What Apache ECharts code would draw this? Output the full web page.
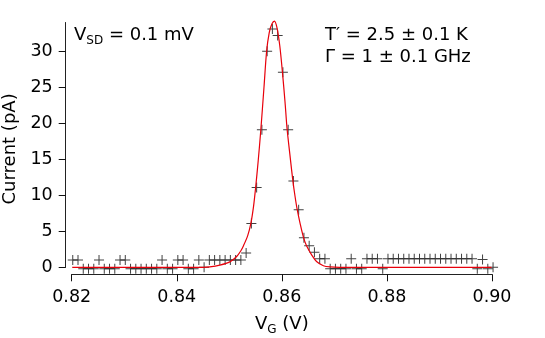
<!DOCTYPE html>
<html>
<head>
<meta charset="utf-8">
<script src="https://cdn.jsdelivr.net/npm/echarts@6/dist/echarts.min.js"></script>
<style>
  html, body { margin: 0; padding: 0; background: #fff; }
  #chart { width: 545px; height: 338px; }
</style>
</head>
<body>
<div id="chart"></div>
<script>
// gate voltage sweep (V) and measured current (pA)
var gateV = [
  0.8202, 0.8212, 0.8222, 0.8232, 0.8242, 0.8252, 0.8262, 0.8272, 0.8282, 0.8292,
  0.8302, 0.8312, 0.8322, 0.8332, 0.8342, 0.8352, 0.8362, 0.8372, 0.8382, 0.8392,
  0.8402, 0.8412, 0.8422, 0.8432, 0.8442, 0.8452, 0.8462, 0.8472, 0.8482, 0.8492,
  0.8502, 0.8512, 0.8522, 0.8532, 0.8542, 0.8552, 0.8562, 0.8572, 0.8582, 0.8592,
  0.8602, 0.8612, 0.8622, 0.8632, 0.8642, 0.8652, 0.8662, 0.8672, 0.8682, 0.8692,
  0.8702, 0.8712, 0.8722, 0.8732, 0.8742, 0.8752, 0.8762, 0.8772, 0.8782, 0.8792,
  0.8802, 0.8812, 0.8822, 0.8832, 0.8842, 0.8852, 0.8862, 0.8872, 0.8882, 0.8892,
  0.8902, 0.8912, 0.8922, 0.8932, 0.8942, 0.8952, 0.8962, 0.8972, 0.8982, 0.8992,
  0.9002
];
var current = [
  1.0, 1.0, -0.2, -0.2, -0.2, 1.0, -0.2, -0.2, -0.2, 1.0,
  1.0, -0.2, -0.2, -0.2, -0.2, -0.2, -0.2, 1.0, -0.2, -0.2,
  1.0, 1.0, -0.2, -0.2, 1.0, 0.0, 1.0, 1.0, 1.0, 1.0,
  1.0, 1.0, 1.0, 2.0, 6.1, 11.1, 19.1, 30.0, 33.1, 32.2,
  27.1, 19.1, 12.0, 8.0, 4.1, 3.0, 2.1, 1.2, 1.2, -0.2,
  -0.2, -0.2, -0.2, 1.2, -0.2, -0.2, 1.2, 1.2, 1.2, -0.2,
  1.2, 1.2, 1.2, 1.2, 1.2, 1.2, 1.2, 1.2, 1.2, 1.2,
  1.2, 1.2, 1.2, 1.2, 1.2, 1.2, 1.2, -0.2, 1.1, -0.2,
  0.0
];

// fitted curve
var fitV = [0.8201, 0.8400, 0.8450, 0.8463, 0.8482, 0.8501, 0.8514, 0.8522, 0.8527, 0.8535,
  0.8541, 0.8546, 0.8550, 0.8555, 0.8560, 0.8566, 0.8571, 0.8576, 0.8581, 0.8586,
  0.8591, 0.8596, 0.8601, 0.8606, 0.8610, 0.8616, 0.8621, 0.8625, 0.8629, 0.8635,
  0.8641, 0.8647, 0.8657, 0.8666, 0.8679, 0.8692, 0.8710, 0.8999];
var fitI = [0, 0, 0, 0.05, 0.3, 0.75, 1.5, 2.3, 3.0, 4.4,
  6.1, 8.4, 11.0, 14.8, 19.1, 25.0, 30.0, 32.6, 33.8, 34.2,
  33.2, 30.8, 27.2, 23.0, 19.2, 15.2, 12.0, 9.9, 8.1, 6.0,
  4.2, 3.0, 1.7, 0.8, 0.22, 0.05, 0, 0];

var font = 'DejaVu Sans';
var plus = 'path://M0,4.5h10v1h-10z M4.5,0h1v10h-1z';

var myChart = echarts.init(document.getElementById('chart'));

var points = gateV.map(function (v, i) { return [v, current[i]]; });
var fit = fitV.map(function (v, i) { return [v, fitI[i]]; });

// normal text + subscript
var subRich = {
  a: { fontFamily: font, fontSize: 18, fontWeight: 'normal', color: '#000', verticalAlign: 'bottom', lineHeight: 20 },
  b: { fontFamily: font, fontSize: 12, fontWeight: 'normal', color: '#000', verticalAlign: 'bottom', lineHeight: 12, padding: [0, 0, -3, 0] }
};

var tickStyle = { show: true, length: 7, inside: false, lineStyle: { color: '#111', width: 1 } };

var option = {
  animation: false,
  title: [
    {
      left: 74, top: 24, padding: 0,
      text: '{a|V}{b|SD}{a| = 0.1 mV}',
      textStyle: { rich: subRich }
    },
    {
      left: 325, top: 24, padding: 0,
      text: 'T\u2032 = 2.5 \u00b1 0.1 K\n\u0393 = 1 \u00b1 0.1 GHz',
      textStyle: { fontFamily: font, fontSize: 18, fontWeight: 'normal', color: '#000', lineHeight: 22 }
    }
  ],
  grid: { left: 71.7, top: 22.5, width: 420.3, height: 244.8, outerBoundsMode: 'none', containLabel: false },
  xAxis: {
    type: 'value',
    min: 0.82,
    max: 0.90,
    interval: 0.02,
    offset: 7,
    name: '{a|V}{b|G}{a| (V)}',
    nameLocation: 'middle',
    nameGap: 39,
    nameTextStyle: { rich: subRich },
    axisLine: { show: true, onZero: false, lineStyle: { color: '#222', width: 1 } },
    axisTick: tickStyle,
    axisLabel: {
      margin: 14,
      fontFamily: font, fontSize: 17.5, color: '#000',
      formatter: function (v) { return v.toFixed(2); }
    },
    splitLine: { show: false }
  },
  yAxis: {
    type: 'value',
    min: 0,
    max: 34,
    interval: 5,
    offset: 6,
    name: 'Current (pA)',
    nameLocation: 'middle',
    nameGap: 46,
    nameTextStyle: { fontFamily: font, fontSize: 18, color: '#000', padding: [0, 8, 0, 0] },
    axisLine: { show: true, onZero: false, lineStyle: { color: '#222', width: 1 } },
    axisTick: tickStyle,
    axisLabel: {
      margin: 13,
      showMaxLabel: false,
      fontFamily: font, fontSize: 17.5, color: '#000',
      formatter: function (v) { return v % 5 === 0 ? String(v) : ''; }
    },
    splitLine: { show: false }
  },
  series: [
    {
      name: 'data',
      type: 'scatter',
      data: points,
      symbol: plus,
      symbolSize: 10,
      clip: false,
      itemStyle: { color: '#111' },
      z: 2
    },
    {
      name: 'fit',
      type: 'line',
      data: fit,
      smooth: 0.3,
      showSymbol: false,
      clip: false,
      lineStyle: { color: '#e8000b', width: 1.2 },
      z: 3
    }
  ]
};

myChart.setOption(option);
</script>
</body>
</html>
